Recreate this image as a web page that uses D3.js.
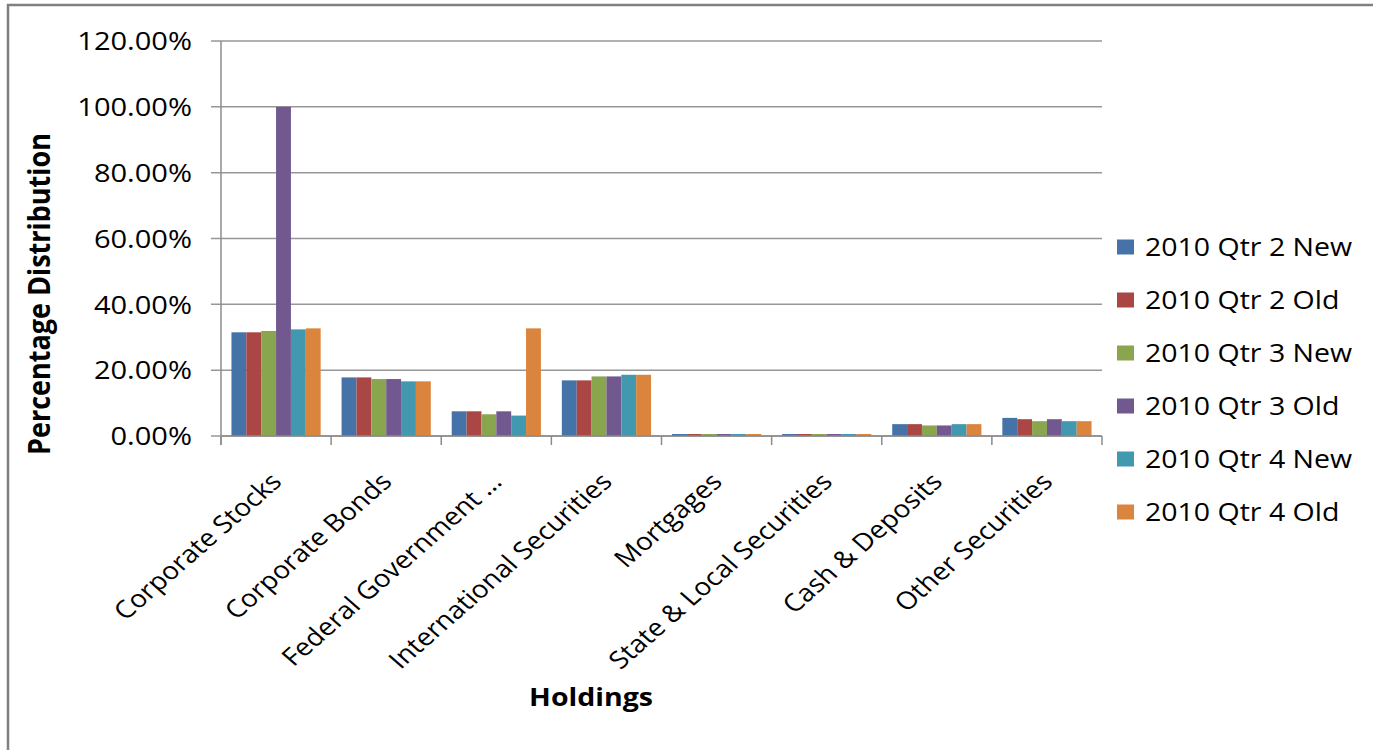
<!DOCTYPE html>
<html>
<head>
<meta charset="utf-8">
<script src="https://cdn.jsdelivr.net/npm/d3@7"></script>
<style>
  body { margin: 0; background: #fff; }
  text { font-family: 'Open Sans', sans-serif; fill: #000; }
</style>
</head>
<body>
<div id="chart"></div>
<script>
const categories = ['Corporate Stocks', 'Corporate Bonds', 'Federal Government …', 'International Securities',
  'Mortgages', 'State & Local Securities', 'Cash & Deposits', 'Other Securities']
const seriesNames = ['2010 Qtr 2 New', '2010 Qtr 2 Old', '2010 Qtr 3 New', '2010 Qtr 3 Old', '2010 Qtr 4 New', '2010 Qtr 4 Old']
const q2New = [31.5, 17.8, 7.5, 16.9, 0.6, 0.6, 3.6, 5.5]
const q2Old = [31.5, 17.8, 7.5, 16.9, 0.6, 0.6, 3.6, 5.1]
const q3New = [31.9, 17.3, 6.6, 18.1, 0.6, 0.6, 3.2, 4.5]
const q3Old = [100.0, 17.3, 7.5, 18.1, 0.6, 0.6, 3.2, 5.1]
const q4New = [32.4, 16.6, 6.2, 18.6, 0.6, 0.6, 3.6, 4.5]
const q4Old = [32.7, 16.6, 32.7, 18.6, 0.6, 0.6, 3.6, 4.5]
const yTicks = [0, 20, 40, 60, 80, 100, 120]
const colors = ['#4572a7', '#aa4643', '#89a54e', '#71588f', '#4198af', '#db843d']

const series = [q2New, q2Old, q3New, q3Old, q4New, q4Old]
const width = 1373, height = 750
const sx = 1.14 // the source picture is stretched sideways, text too
const plot = { left: 221, right: 1102, top: 41, bottom: 436 }

const svg = d3.select('#chart').append('svg')
  .attr('width', width).attr('height', height)

// outer frame (runs off the right and bottom edges)
svg.append('rect')
  .attr('x', 8).attr('y', 5).attr('width', 1400).attr('height', 800)
  .attr('fill', 'none').attr('stroke', '#808080').attr('stroke-width', 2.5)

const y = d3.scaleLinear().domain([0, 120]).range([plot.bottom, plot.top])
const x0 = d3.scaleBand().domain(categories).range([plot.left, plot.right]).padding(0)
const gap = x0.bandwidth() * 0.095
const x1 = d3.scaleBand().domain(d3.range(series.length)).range([gap, x0.bandwidth() - gap]).padding(0)

const place = (sel, px, py, rot) =>
  sel.attr('transform', `translate(${px},${py}) scale(${sx},1) rotate(${rot || 0})`)

// gridlines + y ticks
svg.append('g').selectAll('line').data(yTicks).enter().append('line')
  .attr('x1', plot.left - 10).attr('x2', plot.right)
  .attr('y1', d => y(d)).attr('y2', d => y(d))
  .attr('stroke', '#979797').attr('stroke-width', 1.5)

svg.append('g').selectAll('text').data(yTicks).enter().append('text')
  .each(function (d) { place(d3.select(this), 192, y(d)) })
  .attr('text-anchor', 'end').attr('dy', '0.36em')
  .style('font-size', '25.5px')
  .text(d => d.toFixed(2) + '%')

// bars
const groups = svg.append('g').selectAll('g').data(categories).enter().append('g')
  .attr('transform', d => `translate(${x0(d)},0)`)

groups.selectAll('rect')
  .data((c, i) => series.map((s, k) => ({ k, v: s[i] })))
  .enter().append('rect')
  .attr('x', d => x1(d.k))
  .attr('width', x1.bandwidth())
  .attr('y', d => y(d.v))
  .attr('height', d => y(0) - y(d.v))
  .attr('fill', d => colors[d.k])

// axes lines
svg.append('line')
  .attr('x1', plot.left).attr('x2', plot.left).attr('y1', plot.top).attr('y2', plot.bottom + 9)
  .attr('stroke', '#8c8c8c').attr('stroke-width', 1.5)
svg.append('line')
  .attr('x1', plot.left).attr('x2', plot.right).attr('y1', plot.bottom).attr('y2', plot.bottom)
  .attr('stroke', '#8c8c8c').attr('stroke-width', 1.5)
const xTicks = categories.map(c => x0(c)).concat([plot.right])
svg.append('g').selectAll('line').data(xTicks).enter().append('line')
  .attr('x1', d => d).attr('x2', d => d).attr('y1', plot.bottom).attr('y2', plot.bottom + 9)
  .attr('stroke', '#8c8c8c').attr('stroke-width', 1.5)

// category labels
svg.append('g').selectAll('text').data(categories).enter().append('text')
  .each(function (d) { place(d3.select(this), x0(d) + x0.bandwidth() / 2, 477, -45) })
  .attr('text-anchor', 'end').attr('dy', '0.36em')
  .style('font-size', '24.5px')
  .text(d => d)

// axis titles
svg.append('text')
  .call(s => place(s, 39, 294, -90))
  .attr('text-anchor', 'middle').attr('dy', '0.36em')
  .style('font-size', '27px').style('font-weight', 'bold')
  .text('Percentage Distribution')

svg.append('text')
  .call(s => place(s, 591, 697))
  .attr('text-anchor', 'middle').attr('dy', '0.36em')
  .style('font-size', '25px').style('font-weight', 'bold')
  .text('Holdings')

// legend
const legend = svg.append('g').selectAll('g').data(seriesNames).enter().append('g')
  .attr('transform', (d, i) => `translate(1117,${247 + i * 53})`)
legend.append('rect')
  .attr('x', 0).attr('y', -7.5).attr('width', 17).attr('height', 15)
  .attr('fill', (d, i) => colors[i])
legend.append('text')
  .each(function () { place(d3.select(this), 28, 0) })
  .attr('dy', '0.36em')
  .style('font-size', '25px')
  .text(d => d)
</script>
</body>
</html>
